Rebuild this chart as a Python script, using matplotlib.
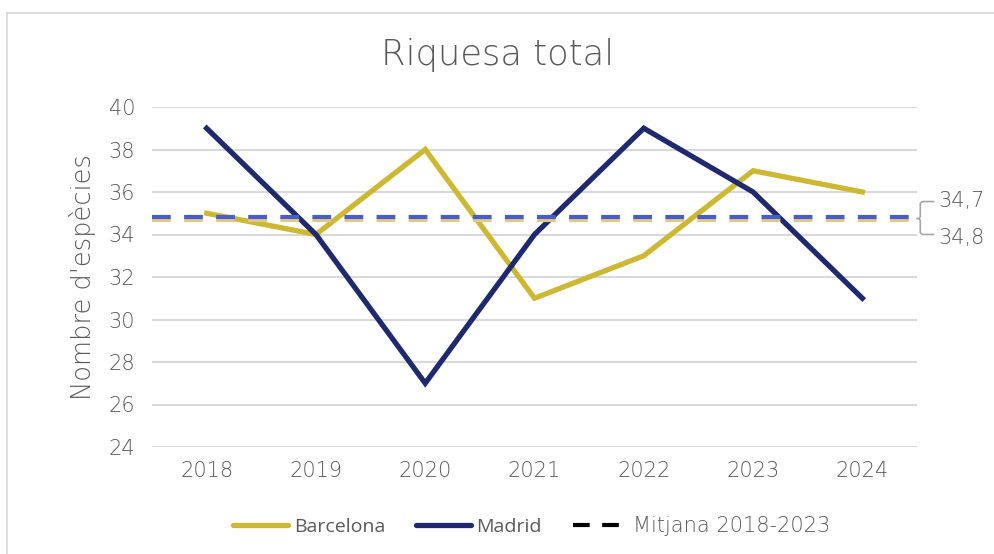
import numpy as np
import matplotlib
matplotlib.use("Agg")
import matplotlib.pyplot as plt
from matplotlib.lines import Line2D

years = ["2018", "2019", "2020", "2021", "2022", "2023", "2024"]
barcelona = [35, 34, 38, 31, 33, 37, 36]
madrid = [39, 34, 27, 34, 39, 36, 31]
yticks = [24, 26, 28, 30, 32, 34, 36, 38, 40]

col_bcn = '#CDB834'
col_mad = '#1F2A6E'
col_bcn_mean = '#DCCB88'
col_mad_mean = '#4B5BC8'
grey = '#595959'
thin = dict(family=['DejaVu Sans'], weight='light')

mean_bcn = np.mean(barcelona[:6])
mean_mad = np.mean(madrid[:6])

def fmt(v):
	return f"{v:.1f}".replace('.', ',')

fig = plt.figure(figsize=(9.95, 5.54), dpi=100)
ax = fig.add_axes([152/995, 1-447/554, (917-152)/995, (447-107)/554])

x = np.arange(len(years))
ax.plot(x, barcelona, color=col_bcn, lw=3.8, solid_joinstyle='miter', zorder=2)
ax.plot(x, madrid, color=col_mad, lw=3.8, solid_joinstyle='miter', zorder=2)
ax.axhline(mean_bcn, color=col_bcn_mean, lw=3, dashes=(4.5, 3.2), zorder=3)
ax.axhline(mean_mad, color=col_mad_mean, lw=3, dashes=(4.5, 3.2), zorder=4)

ax.set_xlim(-0.5, len(years) - 0.5)
ax.set_ylim(24, 40)
ax.set_yticks(yticks)
ax.set_xticks(x, years)
ax.grid(axis='y', color='#D9D9D9', lw=1.5, zorder=0)
ax.set_axisbelow(True)
for s in ax.spines.values():
	s.set_visible(False)
ax.tick_params(length=0, labelcolor=grey, labelsize=15, pad=12)
for lab in ax.get_xticklabels() + ax.get_yticklabels():
	lab.set_fontfamily(thin['family'])
	lab.set_fontweight('light')
ax.tick_params(axis='x', pad=10)

ax.set_ylabel("Nombre d'espècies", color=grey, fontsize=18.5, labelpad=9, **thin)
fig.text(0.5, 1-55/554, "Riquesa total", ha='center', va='center',
	color=grey, fontsize=25.5, **thin)

# bracket with mean labels at the right
mid = (mean_bcn + mean_mad) / 2
top, bot = mid + 0.8, mid - 0.75
xe = len(years) - 0.5
ax.plot([xe, xe + 0.02, xe + 0.03, xe + 0.03, xe + 0.05, xe + 0.15], [mid, mid, mid + 0.1, top - 0.08, top, top],
	color='#A6A6A6', lw=1.2, clip_on=False, solid_joinstyle='round')
ax.plot([xe + 0.02, xe + 0.03, xe + 0.03, xe + 0.05, xe + 0.15], [mid, mid - 0.1, bot + 0.08, bot, bot],
	color='#A6A6A6', lw=1.2, clip_on=False, solid_joinstyle='round')
ax.text(xe + 0.2, top + 0.05, fmt(mean_bcn), ha='left', va='center', color=grey,
	fontsize=15, clip_on=False, **thin)
ax.text(xe + 0.2, bot - 0.15, fmt(mean_mad), ha='left', va='center', color=grey,
	fontsize=15, clip_on=False, **thin)

# legend
handles = [Line2D([], [], color=col_bcn, lw=3.8, solid_capstyle='round'),
	Line2D([], [], color=col_mad, lw=3.8, solid_capstyle='round'),
	Line2D([], [], color='black', lw=3, dashes=(4, 3))]
leg = fig.legend(handles, ['Barcelona', 'Madrid', 'Mitjana 2018-2023'], loc='center',
	bbox_to_anchor=(532/995, 1-526/554), ncol=3, frameon=False, handlelength=2.8,
	handletextpad=0.3, columnspacing=1.6, prop=dict(family='Open Sans', size=14))
for t in leg.get_texts():
	t.set_color(grey)
leg.get_texts()[2].set_fontfamily(thin['family'])
leg.get_texts()[2].set_fontweight('light')
leg.get_texts()[2].set_fontsize(15)

# outer chart border (top and left visible)
fig.add_artist(Line2D([7.5/995, 7.5/995], [0, 1-12.5/554], color='#D9D9D9', lw=1.3))
fig.add_artist(Line2D([7.5/995, 1], [1-12.5/554, 1-12.5/554], color='#D9D9D9', lw=1.3))

fig.savefig('out.png', dpi=100, facecolor='white')
